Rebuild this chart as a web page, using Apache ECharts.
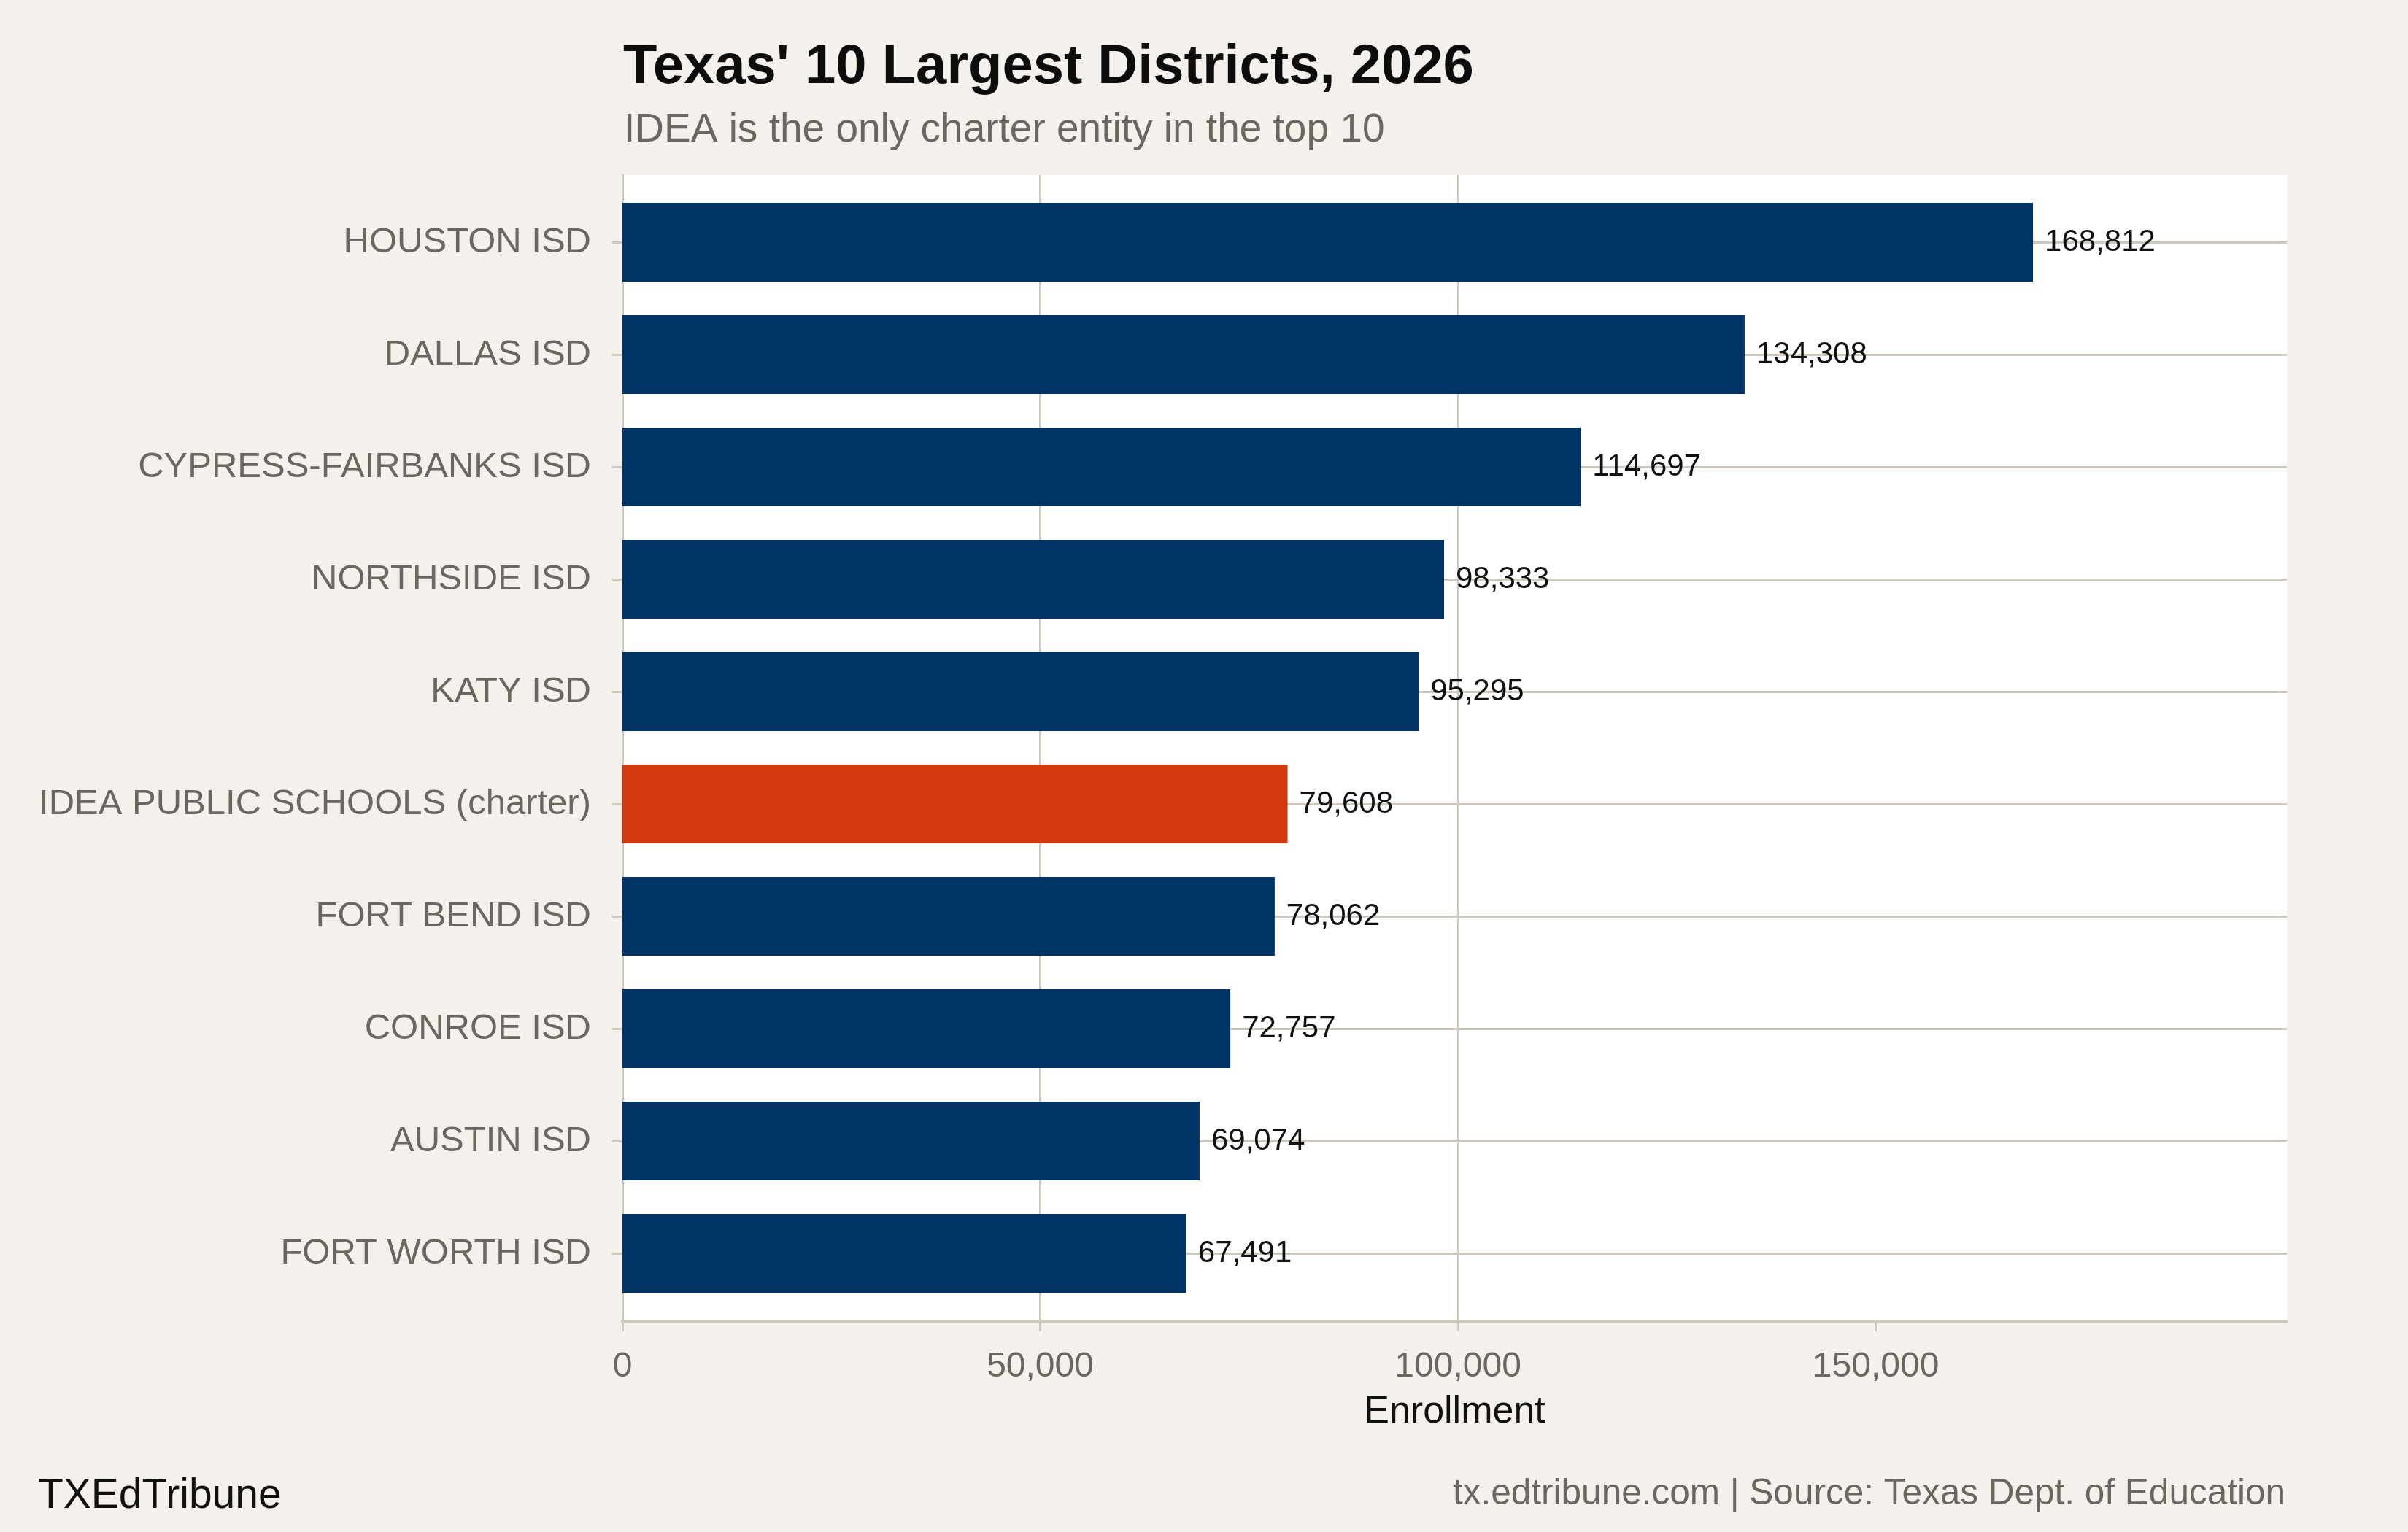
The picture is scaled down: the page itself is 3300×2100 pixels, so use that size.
<!DOCTYPE html>
<html>
<head>
<meta charset="utf-8">
<script src="https://cdn.jsdelivr.net/npm/echarts@6/dist/echarts.min.js"></script>
<style>
html,body{margin:0;padding:0;background:#F4F1EC;}
#chart{width:3300px;height:2100px;}
</style>
</head>
<body>
<div id="chart"></div>
<script>
const categories = ['HOUSTON ISD','DALLAS ISD','CYPRESS-FAIRBANKS ISD','NORTHSIDE ISD','KATY ISD','IDEA PUBLIC SCHOOLS (charter)','FORT BEND ISD','CONROE ISD','AUSTIN ISD','FORT WORTH ISD'];
const enrollment = [168812,134308,114697,98333,95295,79608,78062,72757,69074,67491];
const isCharter = [false,false,false,false,false,true,false,false,false,false];
const xTicks = [0,50000,100000,150000];

const FONT = '"Liberation Sans", Arial, Helvetica, sans-serif';
const NAVY = '#013466';
const ORANGE = '#D4380D';
const GRID = '#CEC8BF';
const GRAY = '#6B665F';
const fmt = v => Number(v).toLocaleString('en-US');

const chart = echarts.init(document.getElementById('chart'));
chart.setOption({
  backgroundColor: '#F4F1EC',
  animation: false,
  title: [
    {text: "Texas' 10 Largest Districts, 2026", left: 849, top: 50,
     textStyle: {fontFamily: FONT, fontWeight: 'bold', fontSize: 76, lineHeight: 76, color: '#0D0D0D'}},
    {text: 'IDEA is the only charter entity in the top 10', left: 850, top: 146,
     textStyle: {fontFamily: FONT, fontWeight: 'normal', fontSize: 55, lineHeight: 55, color: GRAY}},
    {text: 'TXEdTribune', left: 47, top: 2018,
     textStyle: {fontFamily: FONT, fontWeight: 'normal', fontSize: 57, lineHeight: 57, color: '#111'}},
    {text: 'tx.edtribune.com | Source: Texas Dept. of Education', right: 163, top: 2018,
     textStyle: {fontFamily: FONT, fontWeight: 'normal', fontSize: 49.5, lineHeight: 50, color: GRAY}}
  ],
  grid: [
    {left: 853, right: 166, top: 240, bottom: 289, show: true, backgroundColor: '#FFFFFF', borderWidth: 0, z: 0},
    {left: 853, right: 166, top: 332, bottom: 382, show: false, z: 1}
  ],
  xAxis: [
    {gridIndex: 0, type: 'value', min: 0, max: 199200, interval: 50000, z: 1,
     axisLine: {show: true, onZero: false, lineStyle: {color: GRID, width: 4}},
     axisTick: {show: true, length: 14, customValues: xTicks, lineStyle: {color: GRID, width: 3}},
     splitLine: {show: true, showMaxLine: false, lineStyle: {color: GRID, width: 3}},
     axisLabel: {margin: 39, fontFamily: FONT, fontSize: 48, color: GRAY, customValues: xTicks,
       formatter: v => fmt(v)},
     name: 'Enrollment', nameLocation: 'middle', nameGap: 99,
     nameTextStyle: {fontFamily: FONT, fontSize: 52, color: '#111'}},
    {gridIndex: 1, type: 'value', min: 0, max: 199200, show: false}
  ],
  yAxis: [
    {gridIndex: 0, type: 'value', min: 0, max: 1, z: 1,
     axisLine: {show: true, lineStyle: {color: GRID, width: 3}},
     axisTick: {show: false}, axisLabel: {show: false}, splitLine: {show: false}},
    {gridIndex: 1, type: 'category', data: categories, inverse: true, boundaryGap: false, z: 1,
     axisLine: {show: false},
     axisTick: {show: true, length: 14, alignWithLabel: true, lineStyle: {color: GRID, width: 3}},
     splitLine: {show: true, lineStyle: {color: GRID, width: 3}},
     axisLabel: {margin: 43, fontFamily: FONT, fontSize: 49, color: GRAY}}
  ],
  series: [{
    type: 'bar',
    xAxisIndex: 1, yAxisIndex: 1,
    clip: false,
    barCategoryGap: '30%',
    z: 3,
    data: enrollment.map((v, i) => ({value: v, itemStyle: {color: isCharter[i] ? ORANGE : NAVY}})),
    label: {show: true, position: 'right', distance: 16, fontFamily: FONT, fontSize: 42, color: '#111',
      formatter: p => fmt(p.value)}
  }]
});
</script>
</body>
</html>
